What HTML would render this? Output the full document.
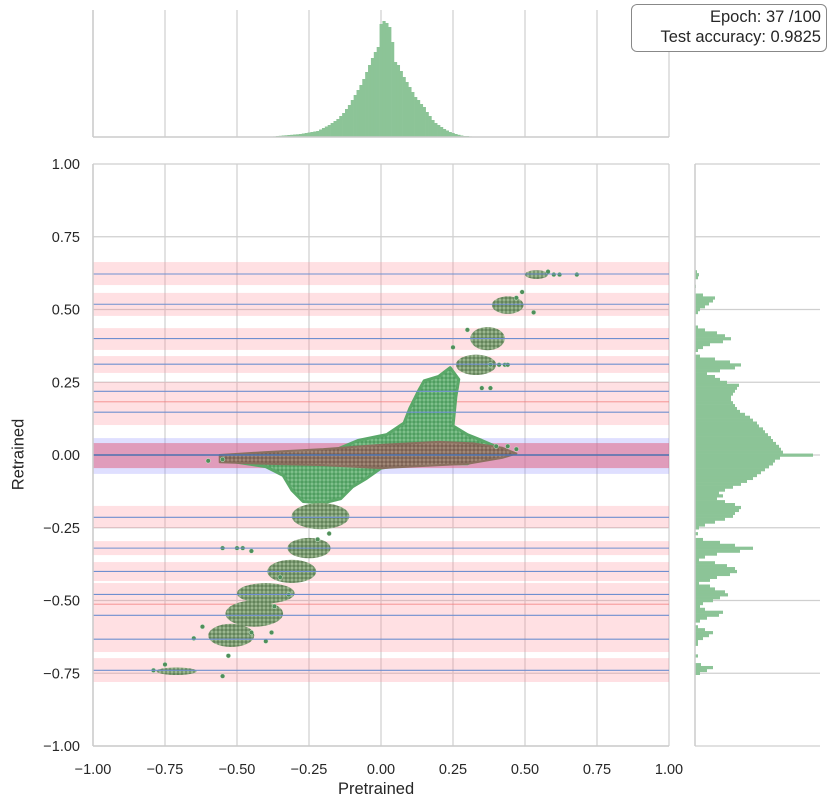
<!DOCTYPE html>
<html><head><meta charset="utf-8"><style>
body{margin:0;background:#fff;}
svg{display:block;font-family:"Liberation Sans",sans-serif;}
</style></head><body>
<svg id="chart" width="831" height="809" viewBox="0 0 831 809">
<defs>
<pattern id="pg" patternUnits="userSpaceOnUse" width="4" height="4"><rect width="4" height="4" fill="#86c592"/><circle cx="2" cy="2" r="1.7" fill="#4f9e60"/></pattern>
<pattern id="pb" patternUnits="userSpaceOnUse" width="4" height="4"><rect width="4" height="4" fill="#a8907e"/><circle cx="2" cy="2" r="1.7" fill="#7a6052"/></pattern>
<pattern id="pm" patternUnits="userSpaceOnUse" width="4" height="4"><rect width="4" height="4" fill="#a4bf98"/><circle cx="2" cy="2" r="1.7" fill="#63845a"/></pattern>
</defs>
<g id="grid"></g>
<g id="bands"></g>
<g id="scatter"></g>
<g id="tophist"></g>
<g id="righthist"></g>
<g id="axes"></g>
</svg>
<script>
const NS='http://www.w3.org/2000/svg';
// ---- data ----
const xTicks=[-1,-0.75,-0.5,-0.25,0,0.25,0.5,0.75,1];
const xTickLabels=['−1.00','−0.75','−0.50','−0.25','0.00','0.25','0.50','0.75','1.00'];
const yTicks=[1,0.75,0.5,0.25,0,-0.25,-0.5,-0.75,-1];
const yTickLabels=['1.00','0.75','0.50','0.25','0.00','−0.25','−0.50','−0.75','−1.00'];
const bandLow=[0.584,0.478,0.361,0.282,0.103,-0.251,-0.344,-0.433,-0.677,-0.780];
const bandHigh=[0.663,0.557,0.436,0.340,0.251,-0.175,-0.296,-0.368,-0.440,-0.698];
const blueLines=[0.622,0.518,0.40,0.312,0.219,0.147,-0.214,-0.32,-0.40,-0.479,-0.551,-0.633,-0.740];
const redLines=[0.183,-0.513];
const zeroBlueBand=[-0.065,0.058];
const zeroRedBand=[-0.045,0.041];
const clusterCx=[0.54,0.44,0.37,0.33,-0.21,-0.25,-0.31,-0.40,-0.44,-0.52,-0.71];
const clusterCy=[0.62,0.515,0.40,0.31,-0.21,-0.32,-0.40,-0.475,-0.545,-0.62,-0.743];
const clusterRx=[0.04,0.055,0.06,0.07,0.1,0.075,0.085,0.1,0.1,0.08,0.07];
const clusterRy=[0.015,0.03,0.04,0.035,0.045,0.035,0.04,0.035,0.045,0.04,0.013];
const greenPoly=[[-0.5,-0.01],[-0.2,0.0],[-0.08,0.05],[0.02,0.07],[0.08,0.11],[0.1,0.16],[0.13,0.22],[0.15,0.255],[0.2,0.27],[0.24,0.3],[0.27,0.26],[0.26,0.2],[0.25,0.1],[0.3,0.07],[0.35,0.05],[0.42,0.02],[0.3,-0.03],[0.1,-0.03],[0.0,-0.045],[-0.05,-0.08],[-0.1,-0.11],[-0.14,-0.15],[-0.2,-0.165],[-0.27,-0.16],[-0.31,-0.12],[-0.34,-0.07],[-0.4,-0.04],[-0.5,-0.025]];
const brownPoly=[[-0.56,0.0],[-0.4,0.01],[-0.2,0.02],[0.0,0.035],[0.2,0.045],[0.32,0.04],[0.42,0.025],[0.47,0.005],[0.42,-0.01],[0.3,-0.03],[0.1,-0.04],[0.0,-0.045],[-0.2,-0.035],[-0.4,-0.03],[-0.56,-0.025]];
const outX=[0.68,0.62,0.60,0.58,0.47,0.49,0.53,0.41,0.38,0.43,0.44,-0.55,-0.50,-0.48,-0.45,-0.79,-0.75,-0.55,-0.53,-0.45,-0.60,-0.55,0.47,0.44,0.40,0.35,0.38,0.30,0.25,-0.65,-0.62,-0.40,-0.38,-0.37,-0.32,-0.35,-0.22,-0.18];
const outY=[0.62,0.62,0.62,0.63,0.54,0.56,0.49,0.31,0.31,0.31,0.31,-0.32,-0.32,-0.32,-0.33,-0.74,-0.72,-0.76,-0.69,-0.61,-0.02,-0.015,0.02,0.03,0.03,0.23,0.23,0.43,0.37,-0.63,-0.59,-0.64,-0.61,-0.52,-0.48,-0.42,-0.29,-0.27];
const topBins=[-0.40,-0.39,-0.38,-0.37,-0.36,-0.35,-0.34,-0.33,-0.32,-0.31,-0.30,-0.29,-0.28,-0.27,-0.26,-0.25,-0.24,-0.23,-0.22,-0.21,-0.20,-0.19,-0.18,-0.17,-0.16,-0.15,-0.14,-0.13,-0.12,-0.11,-0.10,-0.09,-0.08,-0.07,-0.06,-0.05,-0.04,-0.03,-0.02,-0.01,0.00,0.01,0.02,0.03,0.04,0.05,0.06,0.07,0.08,0.09,0.10,0.11,0.12,0.13,0.14,0.15,0.16,0.17,0.18,0.19,0.20,0.21,0.22,0.23,0.24,0.25,0.26,0.27,0.28,0.29,0.30,0.31,0.32];
const topCounts=[2,3,5,6,10,12,15,17,20,22,25,27,30,35,40,45,50,55,60,75,90,105,120,140,160,180,210,240,280,320,370,420,470,520,580,650,720,790,850,900,1130,1160,1140,1100,950,750,720,660,600,550,500,450,400,370,330,300,250,210,170,140,120,100,80,65,50,40,30,22,15,10,10,6,5];
const rightBins=[0.65,0.64,0.63,0.62,0.61,0.60,0.59,0.58,0.57,0.56,0.55,0.54,0.53,0.52,0.51,0.50,0.49,0.48,0.47,0.46,0.45,0.44,0.43,0.42,0.41,0.40,0.39,0.38,0.37,0.36,0.35,0.34,0.33,0.32,0.31,0.30,0.29,0.28,0.27,0.26,0.25,0.24,0.23,0.22,0.21,0.20,0.19,0.18,0.17,0.16,0.15,0.14,0.13,0.12,0.11,0.10,0.09,0.08,0.07,0.06,0.05,0.04,0.03,0.02,0.01,0.00,-0.01,-0.02,-0.03,-0.04,-0.05,-0.06,-0.07,-0.08,-0.09,-0.10,-0.11,-0.12,-0.13,-0.14,-0.15,-0.16,-0.17,-0.18,-0.19,-0.20,-0.21,-0.22,-0.23,-0.24,-0.25,-0.26,-0.27,-0.28,-0.29,-0.30,-0.31,-0.32,-0.33,-0.34,-0.35,-0.36,-0.37,-0.38,-0.39,-0.40,-0.41,-0.42,-0.43,-0.44,-0.45,-0.46,-0.47,-0.48,-0.49,-0.50,-0.51,-0.52,-0.53,-0.54,-0.55,-0.56,-0.57,-0.58,-0.59,-0.60,-0.61,-0.62,-0.63,-0.64,-0.65,-0.66,-0.67,-0.68,-0.69,-0.70,-0.71,-0.72,-0.73,-0.74,-0.75,-0.76,-0.77];
const rightCounts=[0,0,20,40,30,0,0,10,0,0,80,200,180,140,100,50,30,0,0,0,0,30,100,220,300,360,280,150,80,30,0,50,200,350,460,400,250,120,200,250,320,440,420,400,380,360,360,380,400,420,450,500,550,580,620,640,680,700,730,760,780,810,840,860,880,1180,850,800,780,740,700,660,620,580,520,460,380,300,240,280,220,300,400,460,440,400,380,300,200,100,40,0,30,0,80,250,400,580,450,220,100,40,200,320,400,420,350,220,150,40,150,200,300,330,250,180,80,50,100,280,240,120,50,0,30,100,180,140,80,30,30,0,0,0,30,0,0,60,180,120,50,0,0];
// ---- scales ----
const X=v=>381+v*288, Y=v=>455-v*291;
const topBase=137, topScale=0.1, rightBase=695, rightScale=0.1;
function el(tag,attrs,parent){const e=document.createElementNS(NS,tag);for(const k in attrs)e.setAttribute(k,attrs[k]);parent.appendChild(e);return e;}
const G=id=>document.getElementById(id);
const grid=G('grid');
xTicks.forEach(t=>{
 const l=el('line',{x1:X(t),x2:X(t),y1:164,y2:746,stroke:'#cfcfcf','stroke-width':1.2},grid);
 
 
 const l2=el('line',{x1:X(t),x2:X(t),y1:10,y2:137,stroke:'#cfcfcf','stroke-width':1.2},grid);
 
 
});
yTicks.forEach(t=>{
 const l=el('line',{x1:93,x2:669,y1:Y(t),y2:Y(t),stroke:'#cfcfcf','stroke-width':1.2},grid);
 
 
 const l2=el('line',{x1:695,x2:820,y1:Y(t),y2:Y(t),stroke:'#cfcfcf','stroke-width':1.2},grid);
 
 
});
const bands=G('bands');
bandLow.forEach((lo,i)=>{
 const r=el('rect',{x:93,width:576,y:Y(bandHigh[i]),height:Y(lo)-Y(bandHigh[i]),fill:'rgba(255,140,150,0.27)'},bands);
 
 
});
let zb=el('rect',{x:93,width:576,y:Y(zeroBlueBand[1]),height:Y(zeroBlueBand[0])-Y(zeroBlueBand[1]),fill:'rgba(140,140,255,0.28)'},bands);


let zr=el('rect',{x:93,width:576,y:Y(zeroRedBand[1]),height:Y(zeroRedBand[0])-Y(zeroRedBand[1]),fill:'rgba(225,90,120,0.5)'},bands);


redLines.forEach(v=>{
 const l=el('line',{x1:93,x2:669,y1:Y(v),y2:Y(v),stroke:'rgba(240,120,120,0.6)','stroke-width':1.2},bands);
 
 
});
const sc=G('scatter');
const pts=a=>a.map(p=>X(p[0])+','+Y(p[1])).join(' ');
let gp=el('polygon',{points:pts(greenPoly),fill:'url(#pg)',stroke:'#5aa869','stroke-width':3,'stroke-linejoin':'round'},sc);


clusterCx.forEach((cx,i)=>{
 const e=el('ellipse',{cx:X(cx),cy:Y(clusterCy[i]),rx:clusterRx[i]*288,ry:clusterRy[i]*291,fill:'url(#pm)'},sc);
 
 
});
let bp=el('polygon',{points:pts(brownPoly),fill:'url(#pb)',stroke:'#8a705f','stroke-width':2,'stroke-linejoin':'round'},sc);


outX.forEach((x,i)=>{
 const c=el('circle',{cx:X(x),cy:Y(outY[i]),r:2.3,fill:'#4f8f5a',stroke:'#d8ecd8','stroke-width':0.5},sc);
 
 
});
blueLines.forEach(v=>{
 const l=el('line',{x1:93,x2:669,y1:Y(v),y2:Y(v),stroke:'#6f8fd0','stroke-width':1.1},sc);
 
 
});
let zl=el('line',{x1:93,x2:669,y1:Y(0),y2:Y(0),stroke:'#4c72b0','stroke-width':1.6},sc);


const th=G('tophist'), bw=0.01*288;
topBins.forEach((b,i)=>{
 const h=topCounts[i]*topScale;
 const r=el('rect',{x:X(b)-bw/2,y:topBase-h,width:bw+0.3,height:h,fill:'#8cc497'},th);
 
 
});
const rh=G('righthist'), bh=0.01*291;
rightBins.forEach((b,i)=>{
 const w=rightCounts[i]*rightScale;
 if(w<=0)return;
 const r=el('rect',{x:rightBase,y:Y(b)-bh/2,width:w,height:bh+0.3,fill:'#8cc497'},rh);
 
 
});
const ax=G('axes');
const spines=[[93,164,93,746],[93,746,669,746],[93,137,669,137],[695,164,695,746]];
spines.forEach(s=>{
 const l=el('line',{x1:s[0],y1:s[1],x2:s[2],y2:s[3],stroke:'#cccccc','stroke-width':1.5},ax);
 
 
});
let tl=el('line',{x1:93,y1:10,x2:93,y2:137,stroke:'#cccccc','stroke-width':1.5},ax);


xTicks.forEach((t,i)=>{
 const tx=el('text',{x:X(t),y:774,'text-anchor':'middle','font-size':14.5,fill:'#262626'},ax);
 tx.textContent=xTickLabels[i];
 
 
});
yTicks.forEach((t,i)=>{
 const tx=el('text',{x:80,y:Y(t)+5,'text-anchor':'end','font-size':14.5,fill:'#262626'},ax);
 tx.textContent=yTickLabels[i];
 
 
});
</script>
<div style="position:absolute;left:338px;top:780px;font:16.5px 'Liberation Sans',sans-serif;color:#262626">Pretrained</div>
<div style="position:absolute;left:-19px;top:445px;width:76px;text-align:center;transform:rotate(-90deg);font:16.5px 'Liberation Sans',sans-serif;color:#262626">Retrained</div>
<div style="position:absolute;left:631px;top:4px;width:184px;height:44px;padding:0 5px;border:1px solid #888;border-radius:6px;background:#fff;text-align:right;font:16.5px/20px 'Liberation Sans',sans-serif;color:#262626;padding-top:2px;box-sizing:content-box">
<div>Epoch: 37 /100</div>
<div>Test accuracy: 0.9825</div>
</div>
</body></html>
